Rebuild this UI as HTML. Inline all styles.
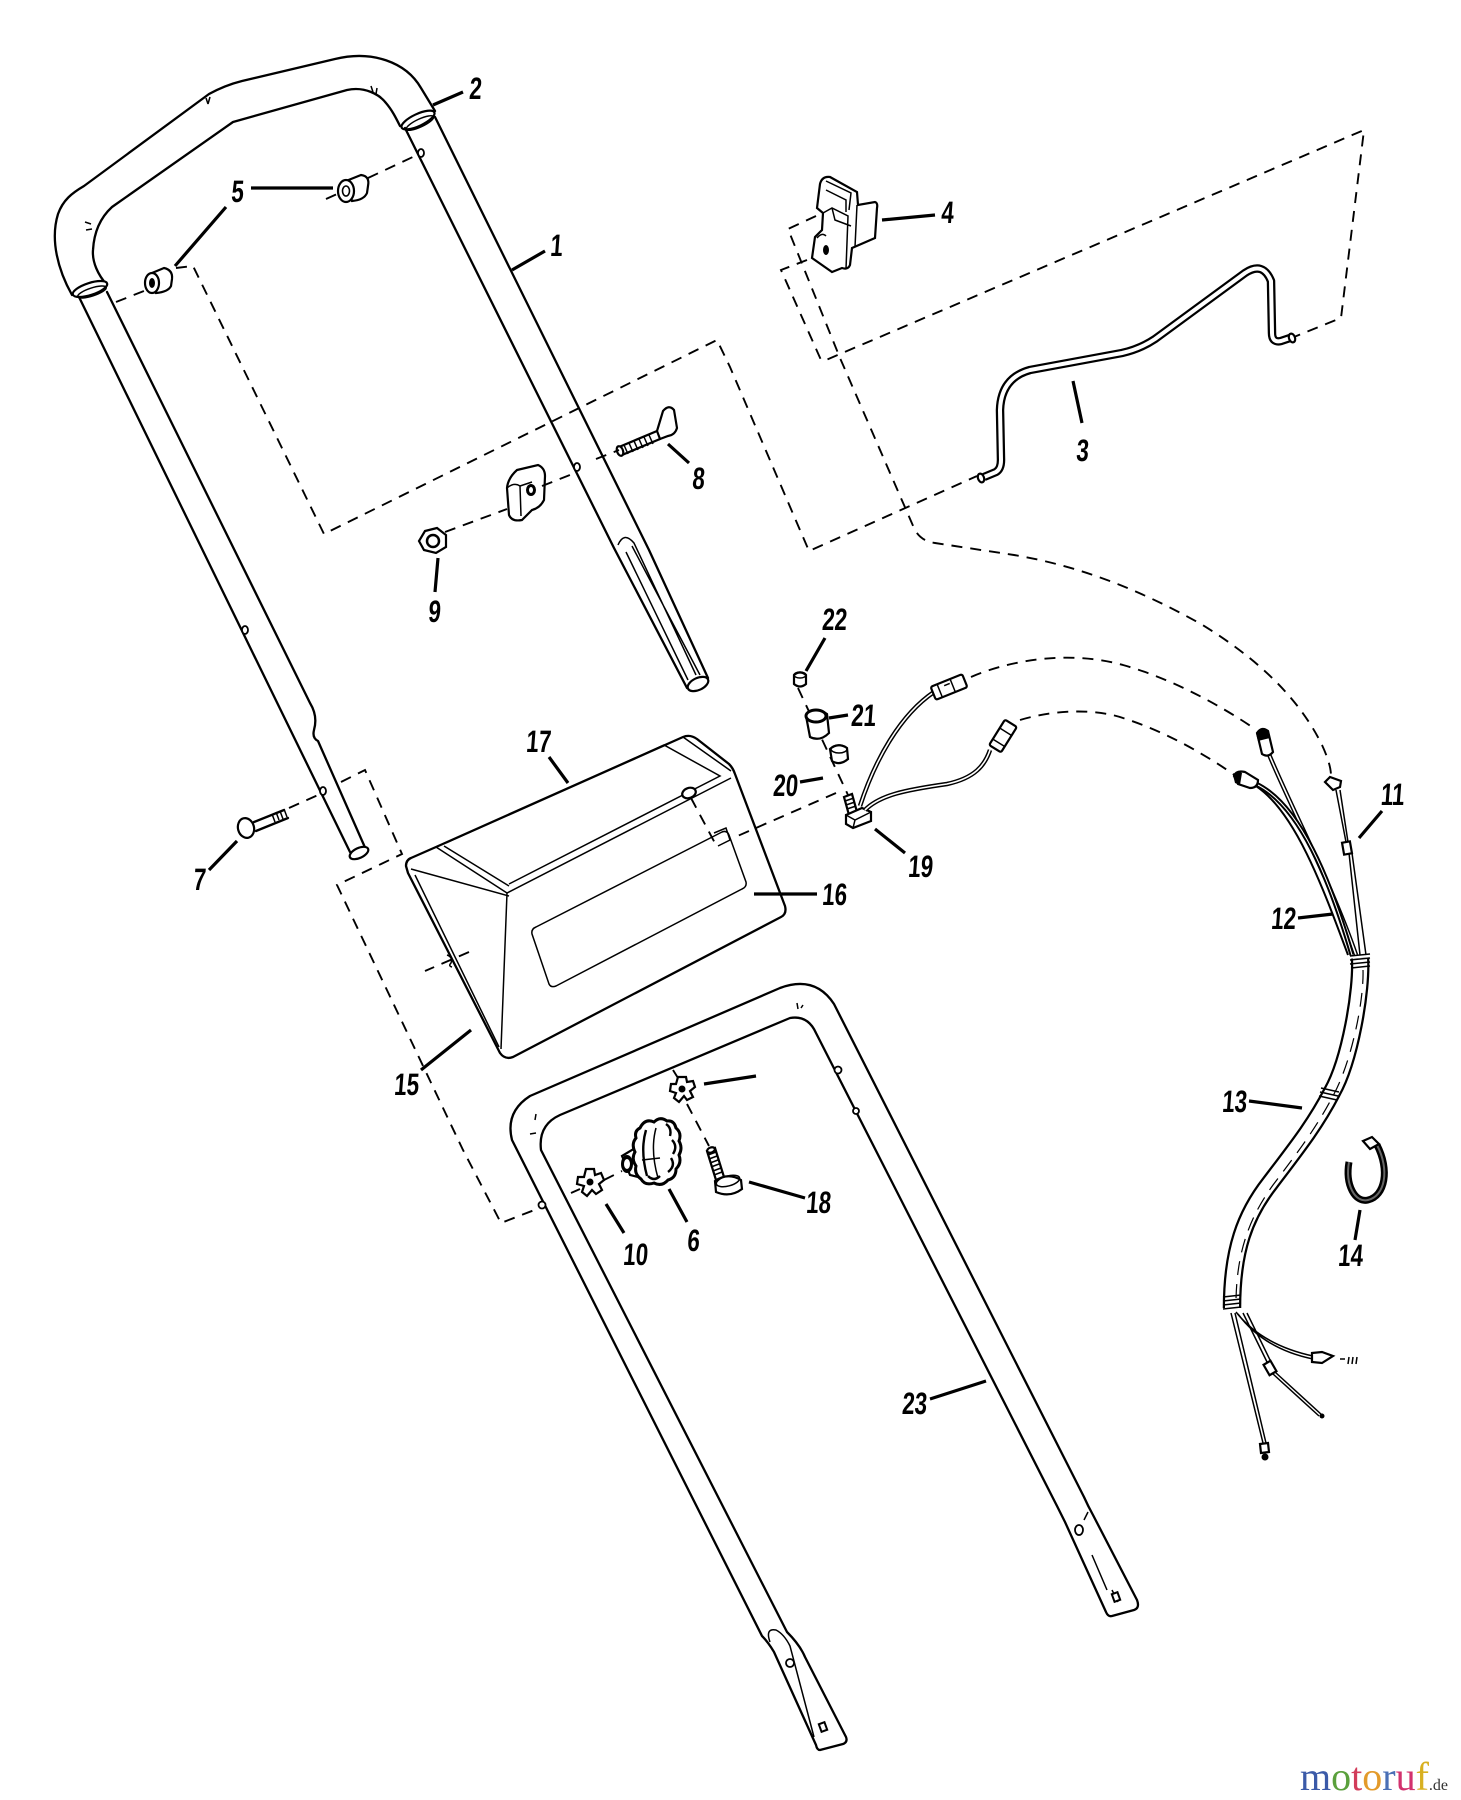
<!DOCTYPE html>
<html><head><meta charset="utf-8"><style>
html,body{margin:0;padding:0;background:#fff;}
svg{display:block;}
.l{fill:none;stroke:#000;stroke-width:2.3;stroke-linejoin:round;stroke-linecap:round;}
.t{fill:none;stroke:#000;stroke-width:1.5;}
.d{fill:none;stroke:#000;stroke-width:1.9;stroke-dasharray:11 8;}
.ld{fill:none;stroke:#000;stroke-width:3.2;stroke-linecap:butt;}
.n{font-family:"Liberation Sans",Arial,sans-serif;font-weight:bold;font-size:31px;fill:#000;}
.w{fill:#fff;stroke:#000;stroke-width:2.2;}
</style></head><body>
<svg width="1461" height="1800" viewBox="0 0 1461 1800" xmlns="http://www.w3.org/2000/svg">
<rect width="1461" height="1800" fill="#fff"/>

<!-- ===== Upper handle (1) ===== -->
<path class="l" d="M72 295 C58 270 50 240 58 214 C63 200 72 193 84 186 L209 94 C220 88 230 84 242 81 L335 59 C372 50 406 62 421 88 L435 111"/>
<path class="l" d="M107 285 C98 275 92 262 93 250 C94 232 100 218 112 207 L233 122 L347 90 C365 86 380 95 386 103 C392 110 396 118 400 126"/>
<ellipse class="w" cx="90" cy="289" rx="18" ry="6" transform="rotate(-18 90 289)"/>
<ellipse class="t" cx="92" cy="292" rx="15" ry="4" transform="rotate(-18 92 292)"/>
<ellipse class="w" cx="418" cy="120" rx="18" ry="6" transform="rotate(-25 418 120)"/>
<ellipse class="t" cx="420" cy="123" rx="15" ry="4" transform="rotate(-25 420 123)"/>
<path class="t" d="M206 98 l2 6 M210 97 l-2 7 M85 222 l6 2 M86 230 l6 -1 M371 86 l2 6 M377 88 l-1 6"/>
<!-- left leg -->
<path class="l" d="M79 297 L350 852"/>
<path class="l" d="M107 292 L310 703 Q318 716 314 730 Q312 738 318 741 L367 852"/>
<ellipse class="w" cx="359" cy="853" rx="10" ry="5" transform="rotate(-25 359 853)"/>
<ellipse cx="245" cy="630" rx="3" ry="4" fill="#fff" stroke="#000" stroke-width="1.8"/>
<ellipse cx="323" cy="791" rx="3" ry="4" fill="#fff" stroke="#000" stroke-width="1.8"/>
<!-- right leg -->
<path class="l" d="M405 128 L614 548 L687 688"/>
<path class="l" d="M435 117 L649 550 L708 678"/>
<path class="t" d="M618 545 Q624 531 634 543 L696 675 M626 552 L688 680 M632 546 L700 675" stroke-width="1.8"/>
<ellipse class="w" cx="698" cy="684" rx="11" ry="6" transform="rotate(-25 698 684)"/>
<ellipse cx="421" cy="153" rx="3" ry="4" fill="#fff" stroke="#000" stroke-width="1.8"/>
<ellipse cx="577" cy="467" rx="3" ry="4" fill="#fff" stroke="#000" stroke-width="1.8"/>

<!-- bushings (5) -->
<path class="w" d="M346 181 L361 175 Q370 176 368 186 L367 193 Q364 200 352 201 Z"/>
<ellipse class="w" cx="346" cy="191" rx="8" ry="11"/>
<ellipse cx="346" cy="191" rx="3.5" ry="5" fill="#fff" stroke="#000" stroke-width="1.6"/>
<path class="w" d="M152 273 L164 268 Q173 270 172 279 L171 286 Q168 292 156 293 Z"/>
<ellipse class="w" cx="152" cy="283" rx="7" ry="10"/>
<ellipse cx="152" cy="283" rx="3" ry="5" fill="#000"/>

<!-- bolt 8 -->
<path class="l" d="M619 447 L657 431 M622 455 L660 439" />
<path class="t" d="M624 445 l4 9 M629 443 l4 9 M634 441 l4 9 M639 439 l4 9 M644 437 l4 9 M649 435 l4 9"/>
<ellipse class="w" cx="620" cy="451" rx="3" ry="5" transform="rotate(-20 620 451)"/>
<path class="w" d="M657 431 L663 411 Q669 404 674 410 L677 428 Q675 435 668 436 L660 439 Z"/>
<!-- clip nut -->
<path class="w" d="M517 470 L538 465 Q545 468 545 476 L544 500 Q540 508 532 510 L522 520 Q512 522 509 515 L507 488 Q508 478 517 470 Z"/>
<path class="t" d="M507 488 Q514 482 520 486 L521 516 M520 486 L532 482"/>
<ellipse cx="531" cy="490" rx="5" ry="6" fill="#000"/>
<ellipse cx="531" cy="490" rx="2" ry="3" fill="#fff"/>
<!-- nut 9 -->
<polygon class="w" points="425,531 437,528 446,535 446,547 436,553 424,550 419,541"/>
<circle cx="433" cy="541" r="6" fill="#fff" stroke="#000" stroke-width="2.5"/>
<!-- bolt 7 -->
<path class="l" d="M254 822 L284 810 M256 831 L288 818"/>
<path class="t" d="M272 814 l3 8 M276 812 l3 8 M280 811 l3 8 M284 809 l3 8"/>
<ellipse class="w" cx="246" cy="828" rx="8" ry="10" transform="rotate(-15 246 828)"/>

<!-- ===== dashed lines (top) ===== -->
<path class="d" d="M326 199 L337 194 M368 178 L417 155"/>
<path class="d" d="M116 302 L144 291"/>
<path class="d" d="M176 268 L193 266 L324 534 L717 340 L730 367 L809 551 L977 476"/>
<path class="d" d="M445 532 L507 509 M542 486 L575 473 M596 459 L619 450"/>
<path class="d" d="M816 216 L788 229 L840 358 L914 528 Q920 541 935 543 L1014 555 C1080 566 1140 590 1201 624 C1260 660 1300 700 1322 745 C1328 758 1331 768 1331 776"/>
<path class="d" d="M807 260 L781 270 L821 360 L826 360 L1364 130 L1341 318 L1294 337"/>

<!-- part 4 clip -->
<path class="w" d="M820 184 Q822 176 830 177 L857 192 L858 205 L875 202 Q878 203 877 208 L875 238 L852 248 L850 265 Q848 270 842 268 L832 272 L812 258 L815 237 L822 230 L823 213 L817 208 Z"/>
<path class="t" d="M826 181 L851 193 L849 210 M826 190 L846 200 L846 212 M823 213 L832 208 L848 216 L846 269 M832 208 L835 220 L851 226 M857 205 L855 247"/>
<ellipse cx="826" cy="250" rx="3" ry="5" fill="#000"/>
<path class="t" d="M817 238 Q822 232 826 236"/>

<!-- part 3 rod -->
<path d="M984 477 L996 472 Q1001 469 1001 460 L1000 410 Q1001 378 1030 370 L1122 353 Q1140 349 1155 339 L1245 273 Q1263 261 1271 281 L1272 333 Q1272 343 1281 341 L1290 338" fill="none" stroke="#000" stroke-width="8.5" stroke-linejoin="round"/>
<path d="M984 477 L996 472 Q1001 469 1001 460 L1000 410 Q1001 378 1030 370 L1122 353 Q1140 349 1155 339 L1245 273 Q1263 261 1271 281 L1272 333 Q1272 343 1281 341 L1290 338" fill="none" stroke="#fff" stroke-width="4" stroke-linejoin="round"/>
<ellipse class="w" cx="981" cy="478" rx="3" ry="4.5" transform="rotate(-20 981 478)"/>
<ellipse class="w" cx="1292" cy="338" rx="3" ry="4.5" transform="rotate(-20 1292 338)"/>

<!-- ===== Box 16/17 ===== -->
<path class="l" d="M408 873 L406 866 Q406 860 411 858 L436 847 L683 737 Q690 734 697 739 L729 764 Q733 768 735 774 L785 906 Q787 914 781 917 L513 1057 Q505 1060 500 1053 L408 873 Z"/>
<path class="t" d="M436 847 L507 893 L731 778 M444 846 L509 886 M683 737 L731 771"/>
<path class="t" d="M446 843 L664 745 L720 776 L509 884"/>
<path class="t" d="M507 893 L501 1049 M411 869 L509 896"/>
<path class="t" d="M415 875 L499 1047"/>
<path class="t" d="M536 927 L722 832 Q727 830 729 835 L746 882 Q747 887 742 889 L556 986 Q551 988 549 984 L532 934 Q531 929 536 927 Z"/>
<ellipse class="w" cx="689" cy="793" rx="7" ry="5" transform="rotate(-20 689 793)"/>
<path class="d" d="M691 798 L716 845"/>
<path class="t" d="M714 833 L726 828 L730 840 L718 846"/>
<path class="t" d="M447 955 Q453 957 451 963 Q448 966 452 967"/>
<path class="d" d="M836 793 L733 838 M469 952 L425 971"/>

<!-- dashed for 15 and 7 -->
<path class="d" d="M341 782 L365 770 L402 854 L337 885 L463 1150 L501 1223 L537 1209"/>
<path class="d" d="M289 808 L318 795"/>

<!-- parts 19-22 -->
<path class="d" d="M798 688 L848 795"/>
<path class="w" d="M794 675 Q800 670 806 675 L806 684 Q800 689 794 684 Z"/>
<ellipse class="t" cx="800" cy="675" rx="6" ry="3"/>
<path class="w" d="M806 716 Q815 706 827 714 L829 733 Q820 742 810 737 Z"/>
<ellipse cx="816" cy="716" rx="10" ry="6" fill="#fff" stroke="#000" stroke-width="3"/>
<path class="w" d="M830 749 Q838 742 847 748 L848 759 Q840 766 832 761 Z"/>
<ellipse class="t" cx="839" cy="749" rx="8" ry="4"/>
<path class="w" d="M844 797 L852 794 L857 812 L849 815 Z"/>
<path class="t" d="M845 801 l9 -3 M846 805 l9 -3 M847 809 l9 -3"/>
<path class="w" d="M846 815 L862 808 L871 812 L871 821 L853 828 L846 824 Z"/>
<path class="t" d="M846 815 L855 820 L871 812 M855 820 L853 828"/>

<!-- wires from 19 -->
<path d="M860 806 C875 760 900 715 934 692" fill="none" stroke="#000" stroke-width="4.5"/>
<path d="M860 806 C875 760 900 715 934 692" fill="none" stroke="#fff" stroke-width="1.6"/>
<path d="M865 810 C880 795 905 790 947 784 C975 778 985 765 990 750" fill="none" stroke="#000" stroke-width="4.5"/>
<path d="M865 810 C880 795 905 790 947 784 C975 778 985 765 990 750" fill="none" stroke="#fff" stroke-width="1.6"/>
<g transform="translate(949 687) rotate(-22)"><rect class="w" x="-17" y="-7" width="34" height="14" rx="2"/><path class="t" d="M-10 -7 L-10 7 M4 -7 L4 7 M-4 -3 h6"/></g>
<g transform="translate(1003 736) rotate(-58)"><rect class="w" x="-15" y="-7" width="30" height="14" rx="2"/><path class="t" d="M-8 -7 L-8 7 M5 -7 L5 7"/></g>
<path class="d" d="M971 677 C1010 660 1070 650 1123 665 C1170 678 1220 705 1255 729"/>
<path class="d" d="M1020 720 C1060 708 1100 710 1123 718 C1170 733 1210 758 1236 776"/>

<!-- harness wires -->
<path d="M1268 752 C1292 810 1330 880 1356 955" fill="none" stroke="#000" stroke-width="4.5"/>
<path d="M1268 752 C1292 810 1330 880 1356 955" fill="none" stroke="#fff" stroke-width="1.6"/>
<path d="M1256 784 C1300 805 1330 880 1352 955" fill="none" stroke="#000" stroke-width="5"/>
<path d="M1256 786 C1295 812 1322 885 1348 955" fill="none" stroke="#000" stroke-width="2"/>
<path d="M1256 784 C1300 805 1330 880 1352 955" fill="none" stroke="#fff" stroke-width="1"/>
<path class="t" d="M1336 790 L1346 842 M1349 853 L1360 955 M1352 853 L1366 955"/>
<path class="t" d="M1340 790 L1348 842"/>
<rect class="w" x="1343" y="842" width="8" height="12" transform="rotate(-10 1347 848)"/>
<path class="w" d="M1257 733 Q1262 726 1268 731 L1273 752 Q1268 758 1262 754 Z"/>
<path d="M1256 733 Q1262 725 1269 731 L1270 738 L1258 741 Z" fill="#000"/>
<path class="w" d="M1234 776 Q1236 770 1245 772 L1258 780 Q1258 788 1250 788 L1238 784 Z"/>
<path d="M1233 775 Q1237 770 1242 773 L1240 785 L1235 783 Z" fill="#000"/>
<path class="w" d="M1325 782 L1330 777 L1341 781 L1340 787 L1333 790 Z"/>

<!-- bundle 13 -->
<path d="M1360 958 C1362 990 1350 1060 1332 1092 C1315 1125 1295 1150 1270 1183 C1245 1215 1232 1250 1232 1308" fill="none" stroke="#000" stroke-width="18.5"/>
<path d="M1360 958 C1362 990 1350 1060 1332 1092 C1315 1125 1295 1150 1270 1183 C1245 1215 1232 1250 1232 1308" fill="none" stroke="#fff" stroke-width="14"/>
<path d="M1363 970 C1364 1000 1352 1060 1334 1094 C1317 1127 1298 1152 1273 1185 C1250 1217 1237 1250 1236 1300" fill="none" stroke="#000" stroke-width="1.2" stroke-dasharray="14 9"/>
<path class="t" d="M1350 956 L1370 954 M1350 960 L1370 958 M1350 964 L1370 962 M1351 968 L1370 966"/>
<path class="t" d="M1321 1088 L1339 1092 M1320 1092 L1338 1096 M1319 1096 L1337 1100"/>
<path class="t" d="M1223 1297 L1241 1295 M1223 1301 L1241 1299 M1223 1305 L1241 1303 M1223 1309 L1241 1307"/>
<!-- end wires -->
<path class="t" d="M1236 1312 Q1262 1345 1313 1356 M1238 1314 Q1264 1349 1313 1359"/>
<path class="w" d="M1312 1353 L1322 1352 L1333 1356 L1322 1363 L1312 1362 Z"/>
<path class="t" d="M1340 1359 h5 M1349 1357 l-1 7 M1353 1357 l-1 7 M1357 1357 l-1 7"/>
<path class="t" d="M1243 1313 L1268 1364 M1247 1313 L1272 1364 M1275 1372 L1322 1415 M1273 1374 L1319 1416"/>
<rect class="w" x="1266" y="1362" width="8" height="12" transform="rotate(-30 1270 1368)"/>
<circle cx="1322" cy="1416" r="2.5" fill="#000"/>
<path class="t" d="M1231 1313 L1263 1443 M1235 1313 L1266 1443"/>
<path class="w" d="M1260 1444 L1268 1443 L1269 1452 L1261 1453 Z"/>
<circle cx="1265" cy="1457" r="3.5" fill="#000"/>

<!-- clip 14 -->
<path d="M1349 1162 C1345 1185 1355 1203 1368 1200 C1385 1196 1390 1170 1377 1145" fill="none" stroke="#000" stroke-width="7"/>
<path d="M1349 1162 C1345 1185 1355 1203 1368 1200 C1385 1196 1390 1170 1377 1145" fill="none" stroke="#666" stroke-width="2"/>
<path class="w" d="M1363 1141 L1372 1137 L1379 1144 L1370 1149 Z"/>

<!-- ===== Lower handle (23) ===== -->
<path class="l" d="M816 1745 L774 1652 Q768 1642 762 1636 L512 1140 Q505 1112 530 1096 L780 988 Q815 975 834 1004 L1084 1497 Q1088 1506 1093 1515 L1137 1600 Q1140 1608 1134 1610 L1112 1616 Q1108 1617 1106 1612 L1065 1522 Q1060 1512 1057 1506 L816 1033 Q808 1015 790 1018 L560 1115 Q538 1125 541 1150 L787 1632 Q800 1645 805 1657 L846 1737 Q848 1742 843 1744 L820 1750 Q817 1750 816 1745 Z"/>
<path class="t" d="M770 1642 Q765 1628 776 1630 Q784 1634 790 1646 L814 1737" stroke-width="1.8"/>
<circle cx="790" cy="1663" r="4" fill="#fff" stroke="#000" stroke-width="1.8"/>
<rect x="820" y="1723" width="6" height="8" fill="#fff" stroke="#000" stroke-width="2" transform="rotate(-20 823 1727)"/>
<path class="t" d="M1084 1520 L1088 1512 M1092 1555 L1107 1590 M1112 1590 L1118 1602"/>
<ellipse cx="1079" cy="1530" rx="4" ry="5" fill="#fff" stroke="#000" stroke-width="1.8"/>
<rect x="1113" y="1593" width="6" height="8" fill="#fff" stroke="#000" stroke-width="2" transform="rotate(-20 1116 1597)"/>
<circle cx="838" cy="1070" r="3.5" fill="#fff" stroke="#000" stroke-width="1.8"/>
<circle cx="856" cy="1111" r="3" fill="#fff" stroke="#000" stroke-width="1.8"/>
<circle cx="542" cy="1205" r="3.5" fill="#fff" stroke="#000" stroke-width="1.8"/>
<path class="t" d="M797 1003 l1 6 M801 1008 l2 -3 M535 1120 l1 -6 M530 1134 l6 -1"/>

<!-- knob 6, washers, screw 18 -->
<path class="d" d="M571 1193 L580 1189 M604 1180 L622 1171"/>
<path class="d" d="M673 1070 L678 1078 M687 1104 L709 1146"/>
<path class="w" d="M622 1156 L645 1142 L650 1180 L630 1175 Z" stroke-width="2.6"/>
<ellipse cx="627" cy="1164" rx="6" ry="9" fill="#000"/>
<ellipse cx="627" cy="1164" rx="3" ry="5" fill="#fff"/>
<path d="M640 1128 Q645 1118 654 1122 Q660 1116 667 1121 Q674 1120 676 1128 Q682 1133 679 1141 Q683 1148 679 1155 Q682 1163 676 1169 Q676 1178 668 1180 Q662 1187 654 1183 Q645 1186 641 1179 Q634 1174 636 1166 Q631 1159 635 1152 Q631 1144 636 1138 Q634 1131 640 1128 Z" fill="#fff" stroke="#000" stroke-width="3"/>
<path d="M666 1124 Q672 1128 670 1136 M672 1140 Q678 1146 673 1154 M671 1158 Q676 1166 668 1172 M660 1176 Q654 1182 648 1176 M646 1130 Q640 1150 647 1176" fill="none" stroke="#000" stroke-width="2.4"/>
<path class="t" d="M656 1128 Q650 1150 658 1178 M642 1160 L660 1158"/>
<g transform="translate(590 1182)"><path class="w" d="M-4 -13 L4 -13 L5 -7 L11 -9 L14 -2 L9 2 L12 8 L6 12 L2 8 L-3 14 L-8 10 L-6 4 L-13 2 L-12 -5 L-6 -5 Z"/><circle r="3.5" fill="#000"/></g>
<g transform="translate(682 1089)"><path class="w" d="M-4 -12 L4 -12 L5 -7 L11 -8 L13 -2 L8 2 L11 8 L5 11 L2 7 L-3 13 L-8 9 L-6 4 L-12 2 L-11 -5 L-6 -5 Z"/><circle r="3.5" fill="#000"/></g>
<path class="w" d="M707 1151 L715 1148 L724 1177 L716 1180 Z"/>
<path class="t" d="M708 1155 l8 -3 M709 1159 l8 -3 M710 1163 l8 -3 M711 1167 l8 -3 M713 1171 l8 -3 M714 1175 l8 -3"/>
<ellipse class="w" cx="711" cy="1150" rx="4" ry="2.5" transform="rotate(-20 711 1150)"/>
<path class="w" d="M715 1181 Q728 1172 741 1180 L742 1189 Q730 1198 716 1192 Z" stroke-width="2.6"/>
<ellipse class="t" cx="728" cy="1181" rx="12" ry="5" transform="rotate(-15 728 1181)"/>

<!-- ===== leader lines ===== -->
<path class="ld" d="M545 251 L512 270 M433 105 L463 92 M1073 381 L1082 423 M882 220 L935 215 M251 188 L333 188 M226 207 L175 266 M669 1189 L687 1222 M209 870 L237 841 M668 444 L689 463 M438 558 L435 592 M606 1204 L624 1233 M1382 811 L1359 838 M1298 918 L1333 914 M1249 1101 L1302 1108 M1360 1210 L1355 1240 M421 1070 L471 1030 M754 894 L817 894 M549 757 L568 783 M749 1182 L805 1198 M875 829 L905 853 M800 782 L823 778 M829 718 L848 715 M825 638 L806 671 M930 1399 L986 1381 M704 1084 L756 1076"/>

<!-- ===== labels ===== -->
<g class="n" text-anchor="middle">
<text transform="translate(556 256) scale(.72 1) skewX(-6)">1</text>
<text transform="translate(475 99) scale(.72 1) skewX(-6)">2</text>
<text transform="translate(1082 461) scale(.72 1) skewX(-6)">3</text>
<text transform="translate(947 223) scale(.72 1) skewX(-6)">4</text>
<text transform="translate(237 202) scale(.72 1) skewX(-6)">5</text>
<text transform="translate(693 1251) scale(.72 1) skewX(-6)">6</text>
<text transform="translate(199 890) scale(.72 1) skewX(-6)">7</text>
<text transform="translate(698 489) scale(.72 1) skewX(-6)">8</text>
<text transform="translate(434 622) scale(.72 1) skewX(-6)">9</text>
<text transform="translate(635 1265) scale(.72 1) skewX(-6)">10</text>
<text transform="translate(1392 805) scale(.72 1) skewX(-6)">11</text>
<text transform="translate(1283 929) scale(.72 1) skewX(-6)">12</text>
<text transform="translate(1234 1112) scale(.72 1) skewX(-6)">13</text>
<text transform="translate(1350 1266) scale(.72 1) skewX(-6)">14</text>
<text transform="translate(406 1095) scale(.72 1) skewX(-6)">15</text>
<text transform="translate(834 905) scale(.72 1) skewX(-6)">16</text>
<text transform="translate(538 752) scale(.72 1) skewX(-6)">17</text>
<text transform="translate(818 1213) scale(.72 1) skewX(-6)">18</text>
<text transform="translate(920 877) scale(.72 1) skewX(-6)">19</text>
<text transform="translate(785 796) scale(.72 1) skewX(-6)">20</text>
<text transform="translate(863 726) scale(.72 1) skewX(-6)">21</text>
<text transform="translate(834 630) scale(.72 1) skewX(-6)">22</text>
<text transform="translate(914 1414) scale(.72 1) skewX(-6)">23</text>
</g>

<!-- watermark -->
<text x="1300" y="1790" style="font-family:'Liberation Serif',serif;font-size:40px;"><tspan fill="#3b5aa8">m</tspan><tspan fill="#5aa03c">o</tspan><tspan fill="#d23c5a">t</tspan><tspan fill="#e39a2a">o</tspan><tspan fill="#4a6fb5">r</tspan><tspan fill="#d2326e">u</tspan><tspan fill="#d8b020">f</tspan><tspan fill="#333" font-size="16">.de</tspan></text>
</svg>
</body></html>
